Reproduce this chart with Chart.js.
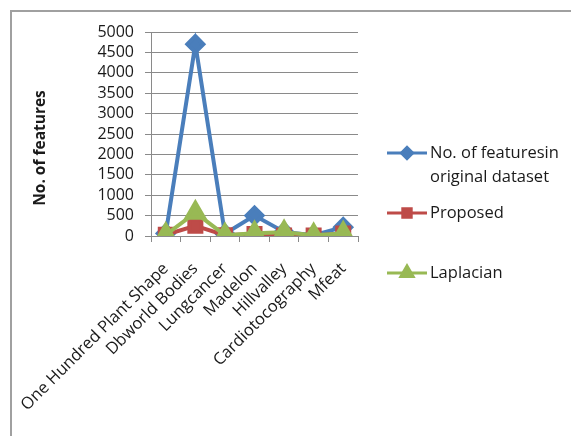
<!DOCTYPE html>
<html>
<head>
<meta charset="utf-8">
<script src="https://cdn.jsdelivr.net/npm/chart.js@4/dist/chart.umd.min.js"></script>
<style>
  html, body { margin: 0; padding: 0; background: #ffffff; }
  canvas { display: block; }
</style>
</head>
<body>
<canvas id="c" width="571" height="436"></canvas>
<script>
// Datasets and their feature counts
const categories = ['One Hundred Plant Shape', 'Dbworld Bodies', 'Lungcancer', 'Madelon', 'Hillvalley', 'Cardiotocography', 'Mfeat'];
const originalFeatures = [64, 4702, 56, 500, 100, 21, 216];
const proposedFeatures = [30, 250, 20, 50, 10, 15, 60];
const laplacianFeatures = [30, 570, 20, 70, 90, 20, 60];
const seriesNames = [['No. of featuresin', 'original dataset'], ['Proposed'], ['Laplacian']];
const yTicks = [0, 500, 1000, 1500, 2000, 2500, 3000, 3500, 4000, 4500, 5000];
const yTitle = 'No. of features';

const FONT = "'Open Sans', 'Liberation Sans', sans-serif";
const TEXT = '#1a1a1a';
const GRID = '#8a8a8a';

// White background and the frame line along the top and left edges
const framePlugin = {
  id: 'frame',
  beforeDraw(chart) {
    const ctx = chart.ctx;
    ctx.save();
    ctx.fillStyle = '#ffffff';
    ctx.fillRect(0, 0, chart.width, chart.height);
    ctx.strokeStyle = '#a0a0a0';
    ctx.lineWidth = 2;
    ctx.beginPath();
    ctx.moveTo(11, chart.height);
    ctx.lineTo(11, 11);
    ctx.lineTo(chart.width, 11);
    ctx.stroke();
    ctx.restore();
  }
};

// Vertical axis title, set a little below the plot's middle
const axisTitle = {
  id: 'axisTitle',
  afterDraw(chart) {
    const ctx = chart.ctx;
    ctx.save();
    ctx.translate(41, 148);
    ctx.rotate(-Math.PI / 2);
    ctx.fillStyle = TEXT;
    ctx.font = 'bold 15.5px ' + FONT;
    ctx.textAlign = 'center';
    ctx.textBaseline = 'middle';
    ctx.fillText(yTitle, 0, 0);
    ctx.restore();
  }
};

// Legend on the right, drawn from each dataset's own style
const sideLegend = {
  id: 'sideLegend',
  afterDraw(chart) {
    const ctx = chart.ctx;
    const rows = [153, 213, 273];
    ctx.save();
    chart.data.datasets.forEach((ds, i) => {
      const y = rows[i];
      ctx.strokeStyle = ds.borderColor;
      ctx.lineWidth = 3;
      ctx.beginPath();
      ctx.moveTo(387, y);
      ctx.lineTo(427, y);
      ctx.stroke();
      ctx.fillStyle = ds.pointBackgroundColor;
      ctx.strokeStyle = ds.pointBorderColor;
      Chart.helpers.drawPoint(ctx, {
        pointStyle: ds.pointStyle,
        radius: ds.pointRadius * 0.7,
        rotation: 0,
        borderWidth: 1
      }, 407, y);
      ctx.fillStyle = TEXT;
      ctx.font = '16.5px ' + FONT;
      ctx.textBaseline = 'middle';
      ctx.textAlign = 'left';
      seriesNames[i].forEach((text, k) => {
        ctx.fillText(text, 430, y + k * 24);
      });
    });
    ctx.restore();
  }
};

const line = (data, color, style, radius, order) => ({
  data,
  borderColor: color,
  backgroundColor: color,
  pointBackgroundColor: color,
  pointBorderColor: color,
  pointStyle: style,
  pointRadius: radius,
  pointHoverRadius: radius,
  borderWidth: 4,
  tension: 0,
  order
});

new Chart(document.getElementById('c'), {
  type: 'line',
  data: {
    labels: categories,
    datasets: [
      line(originalFeatures, '#4a7ebb', 'rectRot', 8, 3),
      line(proposedFeatures, '#be4b48', 'rect', 8.5, 2),
      line(laplacianFeatures, '#98b954', 'triangle', 10, 1)
    ]
  },
  options: {
    responsive: false,
    devicePixelRatio: 1,
    animation: false,
    layout: { padding: { left: 30, top: 32, right: 213, bottom: 0 } },
    plugins: { legend: { display: false }, tooltip: { enabled: false } },
    scales: {
      x: {
        offset: true,
        grid: { display: true, drawOnChartArea: false, drawTicks: true, tickLength: 6, color: GRID, offset: true },
        border: { display: true, color: GRID, width: 1 },
        ticks: { color: TEXT, font: { family: FONT, size: 16.5 }, maxRotation: 45, minRotation: 45, autoSkip: false, padding: 17 },
        afterFit(scale) {
          scale.height = 200;
          scale.paddingLeft = 0;
          scale.paddingRight = 0;
        }
      },
      y: {
        min: 0,
        max: 5000,
        afterBuildTicks(scale) { scale.ticks = yTicks.map(v => ({ value: v })); },
        grid: { color: GRID, lineWidth: 1, tickLength: 6 },
        border: { display: true, color: GRID, width: 1 },
        ticks: { color: TEXT, font: { family: FONT, size: 16 }, padding: 11, autoSkip: false, callback: v => String(v) },
        afterFit(scale) {
          scale.width = 121;
          scale.paddingTop = 0;
          scale.paddingBottom = 0;
        }
      }
    }
  },
  plugins: [framePlugin, axisTitle, sideLegend]
});
</script>
</body>
</html>
